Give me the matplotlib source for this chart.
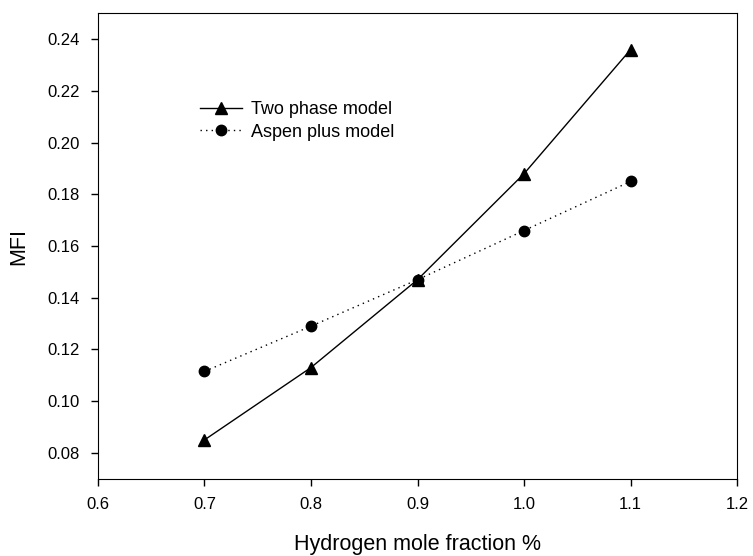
import numpy as np
import matplotlib
matplotlib.use("Agg")
import matplotlib.pyplot as plt

plt.rcParams.update({
    'font.family': ['Liberation Sans', 'DejaVu Sans'],
    'font.size': 12,
})

# données
h2_fraction = [0.7, 0.8, 0.9, 1.0, 1.1]
mfi_two_phase = [0.085, 0.113, 0.147, 0.188, 0.236]
mfi_aspen = [0.1115, 0.129, 0.147, 0.166, 0.185]

fig = plt.figure(figsize=(7.53, 5.56), dpi=100)
ax = fig.add_axes([0.130, 0.139, 0.849, 0.837])

ax.plot(h2_fraction, mfi_two_phase, color='black', lw=1.0, marker='^',
        markersize=8.5, label='Two phase model')
ax.plot(h2_fraction, mfi_aspen, color='black', lw=1.0, linestyle=(0, (1, 3)),
        marker='o', markersize=7.5, label='Aspen plus model')

xt = np.arange(0.6, 1.21, 0.1)
yt = np.arange(0.08, 0.241, 0.02)
ax.set_xlim(0.6, 1.2)
ax.set_ylim(0.07, 0.25)
ax.set_xticks(xt)
ax.set_yticks(yt)
ax.set_xticklabels([f"{v:.1f}" for v in xt])
ax.set_yticklabels([f"{v:.2f}" for v in yt])
ax.tick_params(direction='out', length=5, width=1, labelsize=12)
ax.tick_params(axis='x', pad=8)
ax.tick_params(axis='y', pad=8)

ax.set_xlabel('Hydrogen mole fraction %', fontsize=15.5, labelpad=16)
ax.set_ylabel('MFI', fontsize=15.5, labelpad=13)

ax.legend(loc='upper left', bbox_to_anchor=(0.16, 0.811), frameon=False,
          borderpad=0, borderaxespad=0, handlelength=2.3, handletextpad=0.5,
          numpoints=1, fontsize=13, labelspacing=0.3)

fig.savefig('out.png', dpi=100)
